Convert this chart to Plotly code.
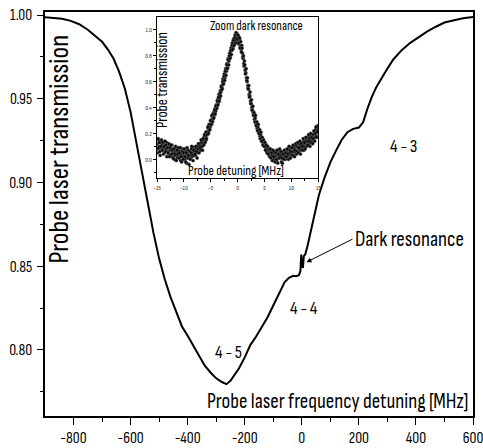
import numpy as np
import plotly.graph_objects as go

# Main absorption profile: probe transmission vs laser detuning (MHz)
detuning_mhz = [
    -900, -870, -840, -810, -780, -750, -720, -700, -680, -660,
    -640, -620, -600, -580, -560, -540, -520, -500, -480, -460,
    -440, -420, -400, -380, -360, -340, -320, -300, -280, -264,
    -250, -235, -220, -200, -180, -160, -140, -120, -100, -80,
    -60, -45, -30, -20, -10, -5, -2, 1, 4, 7,
    12, 20, 40, 60, 80, 100, 120, 140, 160, 180,
    200, 215, 230, 245, 260, 280, 300, 320, 350, 380,
    410, 440, 470, 500, 530, 565, 600,
]
transmission = [
    0.9986, 0.9983, 0.9977, 0.9965, 0.9945, 0.9912, 0.9870, 0.9840, 0.9795, 0.9740,
    0.9660, 0.9560, 0.9420, 0.9250, 0.9060, 0.8880, 0.8700, 0.8545, 0.8420, 0.8315,
    0.8225, 0.8140, 0.8085, 0.8025, 0.7970, 0.7905, 0.7865, 0.7830, 0.7808, 0.7795,
    0.7815, 0.7850, 0.7890, 0.7955, 0.8030, 0.8080, 0.8135, 0.8195, 0.8265, 0.8335,
    0.8405, 0.8430, 0.8442, 0.8440, 0.8446, 0.8470, 0.8570, 0.8500, 0.8490, 0.8560,
    0.8570, 0.8620, 0.8780, 0.8925, 0.9030, 0.9120, 0.9190, 0.9255, 0.9300, 0.9320,
    0.9328, 0.9360, 0.9440, 0.9510, 0.9565, 0.9625, 0.9680, 0.9733, 0.9790, 0.9834,
    0.9868, 0.9902, 0.9930, 0.9955, 0.9967, 0.9980, 0.9988,
]

x_ticks = [-800, -600, -400, -200, 0, 200, 400, 600]
x_tick_text = ["-800", "-600", "-400", "-200", "0", "200", "400", "600"]
x_minor = [-700, -500, -300, -100, 100, 300, 500]
y_ticks = [0.80, 0.85, 0.90, 0.95, 1.00]
y_tick_text = ["0.80", "0.85", "0.90", "0.95", "1.00"]
y_minor = [0.775, 0.825, 0.875, 0.925, 0.975]

# Zoomed scans across the dark resonance (MHz, normalised transmission).
# Two interleaved sweeps on a regular detuning grid.
sweep_a_start, sweep_a_stop, sweep_a_count = -15.0, 15.0, 241
sweep_a = [
    0.12, 0.08, 0.15, 0.10, 0.06, 0.13, 0.09, 0.11,
    0.07, 0.12, 0.09, 0.05, 0.11, 0.08, 0.13, 0.06,
    0.09, 0.04, 0.10, 0.07, 0.03, 0.08, 0.11, 0.05,
    0.02, 0.07, 0.05, 0.09, 0.03, 0.06, 0.01, 0.05,
    0.07, 0.02, 0.04, -0.01, 0.06, 0.03, 0.08, 0.02,
    0.05, 0.00, 0.06, 0.03, -0.03, 0.04, 0.07, 0.02,
    0.01, 0.06, 0.03, 0.08, 0.02, 0.05, 0.09, 0.04,
    0.07, 0.03, 0.09, 0.05, 0.10, 0.06, 0.11, 0.08,
    0.12, 0.07, 0.13, 0.10, 0.15, 0.12, 0.17, 0.14,
    0.18, 0.15, 0.21, 0.19, 0.24, 0.22, 0.27, 0.25,
    0.30, 0.27, 0.33, 0.31, 0.36, 0.34, 0.39, 0.37,
    0.42, 0.40, 0.46, 0.44, 0.50, 0.47, 0.53, 0.52,
    0.57, 0.55, 0.62, 0.59, 0.66, 0.63, 0.70, 0.68,
    0.74, 0.71, 0.78, 0.76, 0.82, 0.79, 0.86, 0.84,
    0.90, 0.86, 0.93, 0.89, 0.96, 0.91, 0.94, 0.97,
    0.92, 0.95, 0.89, 0.93, 0.87, 0.85, 0.88, 0.82,
    0.78, 0.74, 0.76, 0.69, 0.67, 0.63, 0.60, 0.57,
    0.54, 0.50, 0.49, 0.45, 0.43, 0.40, 0.38, 0.36,
    0.34, 0.31, 0.32, 0.28, 0.27, 0.24, 0.25, 0.22,
    0.21, 0.18, 0.19, 0.16, 0.14, 0.15, 0.12, 0.13,
    0.10, 0.12, 0.08, 0.09, 0.06, 0.08, 0.04, 0.07,
    0.05, 0.02, 0.07, 0.03, 0.06, 0.00, 0.04, 0.05,
    0.02, 0.06, -0.01, 0.04, 0.03, 0.07, 0.01, 0.05,
    0.03, -0.02, 0.05, 0.02, 0.06, 0.01, 0.04, 0.00,
    0.06, 0.02, 0.05, 0.08, 0.03, 0.07, 0.04, 0.09,
    0.05, 0.09, 0.06, 0.03, 0.08, 0.10, 0.05, 0.07,
    0.10, 0.06, 0.09, 0.12, 0.07, 0.11, 0.08, 0.10,
    0.13, 0.09, 0.11, 0.14, 0.10, 0.12, 0.15, 0.11,
    0.14, 0.17, 0.12, 0.16, 0.13, 0.18, 0.15, 0.14,
    0.19, 0.15, 0.21, 0.17, 0.23, 0.18, 0.24, 0.22,
    0.25,
]
sweep_b_start, sweep_b_stop, sweep_b_count = -14.9375, 14.9375, 240
sweep_b = [
    0.05, 0.16, 0.09, 0.13, 0.03, 0.10, 0.15, 0.07,
    0.13, 0.04, 0.10, 0.14, 0.06, 0.11, 0.02, 0.09,
    0.05, 0.12, 0.02, 0.09, 0.11, 0.04, 0.07, 0.01,
    0.08, 0.00, 0.04, 0.10, -0.01, 0.07, 0.04, 0.09,
    0.01, 0.05, 0.09, 0.02, -0.02, 0.06, 0.00, 0.05,
    0.08, 0.02, -0.02, 0.05, 0.09, 0.01, 0.03, -0.04,
    0.06, 0.00, 0.05, 0.10, 0.03, -0.01, 0.07, 0.03,
    0.04, 0.10, 0.06, 0.01, 0.08, 0.12, 0.05, 0.10,
    0.09, 0.15, 0.10, 0.07, 0.16, 0.11, 0.19, 0.13,
    0.21, 0.16, 0.19, 0.25, 0.20, 0.27, 0.23, 0.30,
    0.27, 0.34, 0.29, 0.35, 0.32, 0.38, 0.35, 0.41,
    0.39, 0.45, 0.42, 0.48, 0.45, 0.51, 0.49, 0.56,
    0.54, 0.60, 0.58, 0.64, 0.61, 0.68, 0.65, 0.73,
    0.70, 0.77, 0.73, 0.80, 0.78, 0.84, 0.81, 0.88,
    0.85, 0.92, 0.88, 0.94, 0.90, 0.98, 0.93, 0.90,
    0.96, 0.90, 0.94, 0.86, 0.91, 0.83, 0.86, 0.79,
    0.80, 0.72, 0.73, 0.66, 0.70, 0.61, 0.63, 0.55,
    0.57, 0.48, 0.52, 0.43, 0.46, 0.38, 0.41, 0.34,
    0.36, 0.29, 0.34, 0.26, 0.29, 0.22, 0.27, 0.20,
    0.23, 0.16, 0.21, 0.14, 0.17, 0.11, 0.15, 0.10,
    0.13, 0.07, 0.11, 0.05, 0.10, 0.04, 0.08, 0.02,
    0.08, 0.01, 0.05, -0.01, 0.07, 0.02, 0.06, -0.02,
    0.05, 0.00, 0.07, -0.03, 0.04, 0.01, 0.08, 0.02,
    0.06, 0.01, -0.03, 0.04, 0.00, 0.07, 0.02, 0.05,
    0.02, 0.08, 0.04, 0.00, 0.10, 0.05, 0.01, 0.06,
    0.09, 0.03, 0.11, 0.06, 0.02, 0.07, 0.12, 0.04,
    0.06, 0.13, 0.05, 0.09, 0.14, 0.04, 0.12, 0.07,
    0.10, 0.16, 0.07, 0.13, 0.08, 0.17, 0.10, 0.14,
    0.11, 0.19, 0.14, 0.10, 0.20, 0.13, 0.17, 0.12,
    0.16, 0.22, 0.14, 0.20, 0.25, 0.17, 0.21, 0.26,
]
zoom_detuning = np.concatenate([
    np.linspace(sweep_a_start, sweep_a_stop, sweep_a_count),
    np.linspace(sweep_b_start, sweep_b_stop, sweep_b_count),
])
zoom_transmission = sweep_a + sweep_b

zoom_x_ticks = [-15, -10, -5, 0, 5, 10, 15]
zoom_x_tick_text = ["-15", "-10", "-5", "0", "5", "10", "15"]
zoom_x_minor = [-12.5, -7.5, -2.5, 2.5, 7.5, 12.5]
zoom_y_ticks = [0.0, 0.2, 0.4, 0.6, 0.8, 1.0]
zoom_y_tick_text = ["0.0", "0.2", "0.4", "0.6", "0.8", "1.0"]
zoom_y_minor = [-0.1, 0.1, 0.3, 0.5, 0.7, 0.9]

FONT = "Sofia Sans Condensed, Sofia Sans Semi Condensed, Liberation Sans, Arial, sans-serif"

fig = go.Figure()
fig.add_trace(go.Scatter(
    x=detuning_mhz, y=transmission, mode="lines",
    line=dict(color="black", width=2), xaxis="x", yaxis="y",
    showlegend=False, hoverinfo="skip",
))
fig.add_trace(go.Scatter(
    x=zoom_detuning, y=zoom_transmission, mode="markers",
    marker=dict(color="black", size=3.3, symbol="circle",
                line=dict(color="#666", width=0.5)),
    xaxis="x2", yaxis="y2", showlegend=False, hoverinfo="skip",
))

main_axis = dict(
    showline=True, linecolor="black", linewidth=1.5, mirror=True,
    ticks="outside", tickwidth=1.2, tickcolor="black",
    showgrid=False, zeroline=False, automargin=False,
    ticklabeloverflow="allow",
    tickfont=dict(family=FONT, size=15.5, color="black"),
)
fig.update_layout(
    width=483, height=448,
    margin=dict(l=45, r=10, t=12, b=32),
    paper_bgcolor="white", plot_bgcolor="white",
    xaxis=dict(
        main_axis, range=[-900, 600], domain=[0, 1],
        tickmode="array", tickvals=x_ticks, ticktext=x_tick_text, ticklen=7,
        ticklabelstandoff=0,
        minor=dict(tickmode="array", tickvals=x_minor, ticks="outside", ticklen=4,
                   tickcolor="black", tickwidth=1.2),
    ),
    yaxis=dict(
        main_axis, range=[0.7605, 1.0018], domain=[0, 1],
        tickmode="array", tickvals=y_ticks, ticktext=y_tick_text, ticklen=6,
        ticklabelstandoff=2,
        minor=dict(tickmode="array", tickvals=y_minor, ticks="outside", ticklen=3,
                   tickcolor="black", tickwidth=1.2),
    ),
    xaxis2=dict(
        domain=[0.262, 0.6386], anchor="y2", range=[-15, 15], automargin=False,
        showline=True, linecolor="black", linewidth=1, mirror=True,
        ticks="outside", ticklen=3, tickwidth=0.8, tickcolor="black",
        tickmode="array", tickvals=zoom_x_ticks, ticktext=zoom_x_tick_text,
        minor=dict(tickmode="array", tickvals=zoom_x_minor, ticks="outside",
                   ticklen=2, tickcolor="black", tickwidth=0.8),
        tickfont=dict(family=FONT, size=6.5, color="#333"),
        showgrid=False, zeroline=False,
    ),
    yaxis2=dict(
        domain=[0.589, 0.9876], anchor="x2", range=[-0.145, 1.10], automargin=False,
        showline=True, linecolor="black", linewidth=1, mirror=True,
        ticks="outside", ticklen=3, tickwidth=0.8, tickcolor="black",
        tickmode="array", tickvals=zoom_y_ticks, ticktext=zoom_y_tick_text,
        minor=dict(tickmode="array", tickvals=zoom_y_minor, ticks="outside",
                   ticklen=2, tickcolor="black", tickwidth=0.8),
        tickfont=dict(family=FONT, size=6.5, color="#333"),
        showgrid=False, zeroline=False,
    ),
)

def label(text, x, y, size, xanchor="center", **kw):
    fig.add_annotation(
        text=text, x=x, y=y, xref="paper", yref="paper", showarrow=False,
        xanchor=xanchor, yanchor="middle",
        font=dict(family=FONT, size=size, color="black"), **kw,
    )

label("Probe laser transmission", 0.035, 0.662, 28, textangle=-90)
label("Probe laser frequency detuning [MHz]", 0.994, 0.036, 21, xanchor="right")
label("Zoom dark resonance", 0.4936, 0.965, 13)
label("Probe transmission", 0.276, 0.832, 15, textangle=-90)
label("Probe detuning [MHz]", 0.4456, 0.606, 13.5)
label("4 - 5", 0.428, 0.158, 18)
label("4 - 4", 0.606, 0.267, 18)
label("4 - 3", 0.837, 0.666, 18)

fig.add_annotation(
    text="Dark resonance", x=16.5, y=0.8524, xref="x", yref="y",
    showarrow=True, arrowhead=2, arrowsize=1, arrowwidth=1, arrowcolor="black",
    ax=46, ay=-23, xanchor="left", yanchor="middle",
    font=dict(family=FONT, size=21, color="black"),
)

fig.write_html("out.html")
